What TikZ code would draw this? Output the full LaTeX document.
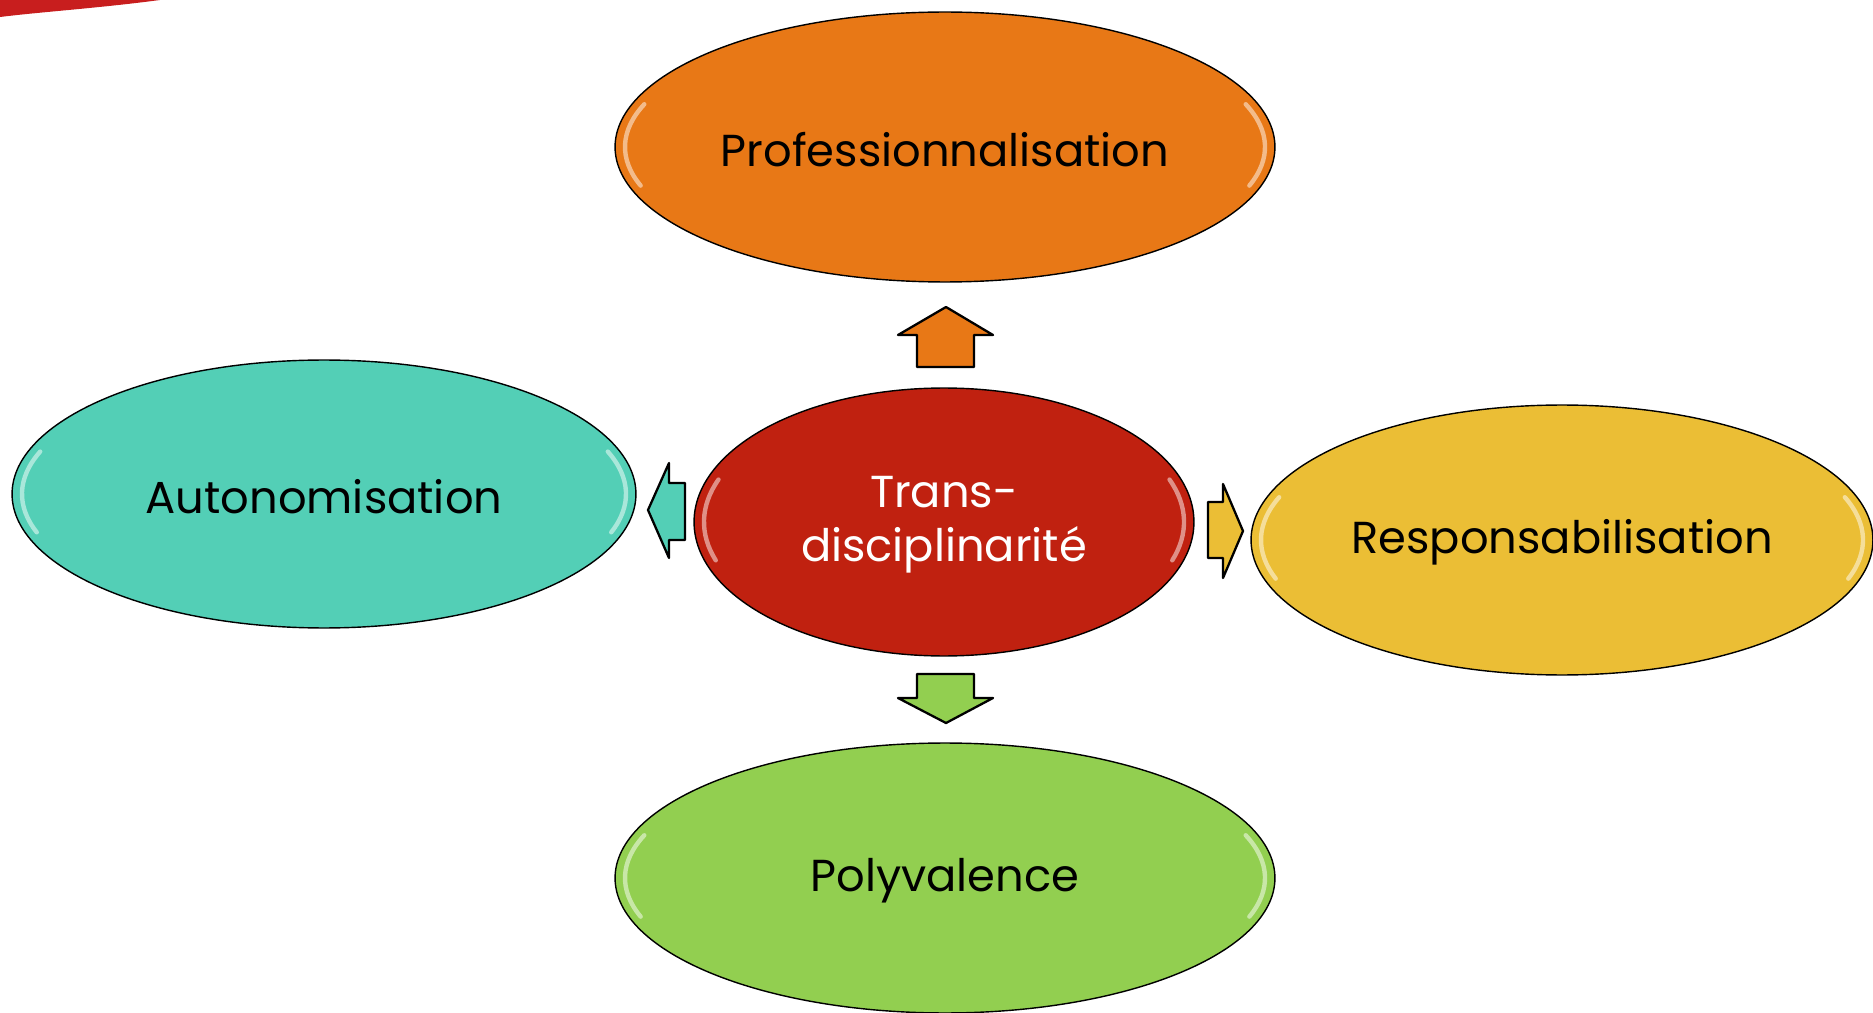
\documentclass[tikz,border=0pt]{standalone}
\usepackage{fontspec}
\setmainfont{Poppins}
\usetikzlibrary{shapes.geometric}

\definecolor{orangeP}{RGB}{232,120,22}
\definecolor{redT}{RGB}{192,33,16}
\definecolor{tealA}{RGB}{83,207,182}
\definecolor{yellowR}{RGB}{235,190,53}
\definecolor{greenP}{RGB}{146,207,80}
\definecolor{swoosh}{RGB}{200,30,30}

\newcommand{\lowtext}[1]{\raisebox{-1.5pt}[\height][\depth]{#1}}

\tikzset{
  bubble/.style={ellipse,draw=black,line width=0.8pt,inner sep=0pt,
    font=\fontsize{25.5}{31}\selectfont,align=center},
  blockarrow/.style={draw=black,line width=1.3pt,line join=round},
  gloss/.style={white,opacity=0.5,line width=2.5pt,line cap=round}
}

\begin{document}
\begin{tikzpicture}[x=0.02cm,y=-0.02cm]
  \useasboundingbox (0,0) rectangle (1873,1013);
  \clip (0,0) rectangle (1873,1013);

  % red corner
  \fill[swoosh] (0,0) -- (160,0) .. controls (100,8) and (40,12) .. (0,17) -- cycle;

  % bubbles
  \node[bubble,fill=orangeP,minimum width=13.2cm,minimum height=5.4cm] (prof) at (945,147) {\lowtext{Professionnalisation}};
  \node[bubble,fill=tealA,minimum width=12.48cm,minimum height=5.36cm] (auto) at (324,494) {\lowtext{Autonomisation}};
  \node[bubble,fill=yellowR,minimum width=12.44cm,minimum height=5.4cm] (resp) at (1562,540) {\lowtext{Responsabilisation}};
  \node[bubble,fill=greenP,minimum width=13.2cm,minimum height=5.4cm] (poly) at (945,878) {\lowtext{Polyvalence}};
  \node[bubble,fill=redT,text=white,minimum width=10cm,minimum height=5.36cm] (trans) at (944,522) {\lowtext{Trans-}\\\lowtext{disciplinarité}};

  % edge highlights
  \foreach \n/\rx/\ry in {prof/320/125,auto/302/124,resp/301/125,poly/320/125,trans/240/124}{
    \draw[gloss] ([shift={(160:\rx cm*0.02 and \ry cm*0.02)}]\n.center) arc[start angle=160,end angle=198,x radius=\rx*0.02cm,y radius=\ry*0.02cm];
    \draw[gloss] ([shift={(-18:\rx cm*0.02 and \ry cm*0.02)}]\n.center) arc[start angle=-18,end angle=20,x radius=\rx*0.02cm,y radius=\ry*0.02cm];
  }

  % block arrows
  \draw[blockarrow,fill=orangeP] (946,307) -- (993,335) -- (974,335) -- (974,367) -- (917,367) -- (917,335) -- (898,335) -- cycle;
  \draw[blockarrow,fill=greenP] (917,674) -- (974,674) -- (974,698) -- (993,698) -- (946,723) -- (898,698) -- (917,698) -- cycle;
  \draw[blockarrow,fill=tealA] (648,510) -- (669,463) -- (669,483) -- (685,483) -- (685,540) -- (669,540) -- (669,558) -- cycle;
  \draw[blockarrow,fill=yellowR] (1208,502) -- (1223,502) -- (1223,484) -- (1243,531) -- (1223,578) -- (1223,558) -- (1208,558) -- cycle;
\end{tikzpicture}
\end{document}
